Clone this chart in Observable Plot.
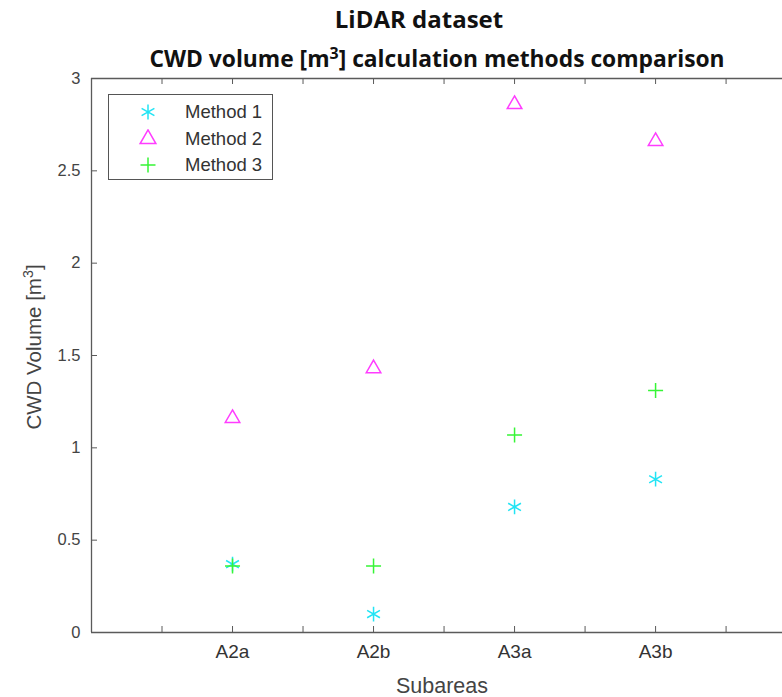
<!DOCTYPE html>
<html>
<head>
<meta charset="utf-8">
<script src="https://cdn.jsdelivr.net/npm/d3@7"></script>
<script src="https://cdn.jsdelivr.net/npm/@observablehq/plot@0.6"></script>
<style>
  html, body { margin: 0; padding: 0; background: #fff; overflow: hidden; }
  #wrap { position: relative; width: 782px; height: 697px; font-family: "Liberation Sans", Arial, sans-serif; }
  .t { position: absolute; white-space: nowrap; }
  #title { left: 419px; top: 18px; transform: translate(-50%, -50%); font: bold 24px "Open Sans", sans-serif; color: #111; }
  #subtitle { left: 437px; top: 58px; transform: translate(-50%, -50%); font: bold 22.8px "Open Sans", sans-serif; color: #111; }
  #ylabel { left: 33px; top: 347px; transform: translate(-50%, -50%) rotate(-90deg); font-size: 20.5px; color: #444; }
  #xlabel { left: 442px; top: 686px; transform: translate(-50%, -50%); font-size: 21.5px; color: #444; }
  sup { font-size: 0.7em; }
  #legend { position: absolute; left: 108px; top: 94px; width: 165px; height: 86px; border: 1px solid #555; background: #fff; box-sizing: border-box; }
  .row { position: absolute; left: 0; height: 20px; display: flex; align-items: center; font-size: 18.5px; color: #333; }
  .row svg { margin-left: 29px; margin-right: 27px; }
</style>
</head>
<body>
<div id="wrap">
  <div id="chart"></div>
  <div class="t" id="title">LiDAR dataset</div>
  <div class="t" id="subtitle">CWD volume [m<sup>3</sup>] calculation methods comparison</div>
  <div class="t" id="ylabel">CWD Volume [m<sup>3</sup>]</div>
  <div class="t" id="xlabel">Subareas</div>
  <div id="legend"></div>
</div>
<script>
// ---- data ----
const subareas = ["A2a", "A2b", "A3a", "A3b"];
const method1 = [0.37, 0.10, 0.68, 0.83];
const method2 = [1.16, 1.43, 2.86, 2.66];
const method3 = [0.36, 0.36, 1.07, 1.31];
const methodNames = ["Method 1", "Method 2", "Method 3"];
const methodColors = ["#22e4f4", "#ff3cff", "#36f536"];
const methodSymbols = ["asterisk", "triangle", "plus"];
const plotRadius = [7, 5.4, 4.9];
const legendRadius = [7, 7.5, 4.9];
const yTicks = [0, 0.5, 1, 1.5, 2, 2.5, 3];
const xTicks = [0.5, 1, 1.5, 2, 2.5, 3, 3.5, 4, 4.5];

const series = [method1, method2, method3];

const W = 782, H = 697, mL = 91, mR = 0, mT = 78, mB = 65;
const innerW = W - mL - mR, innerH = H - mT - mB;
const axisColor = "#5a5a5a";
const tk = 6;

const dotMarks = series.map((vals, m) =>
  Plot.dot(vals.map((v, i) => ({x: i + 1, value: v})), {
    x: "x", y: "value",
    symbol: methodSymbols[m],
    stroke: methodColors[m],
    r: plotRadius[m],
    strokeWidth: 1.5
  })
);

const plot = Plot.plot({
  width: W, height: H,
  marginLeft: mL, marginRight: mR, marginTop: mT, marginBottom: mB,
  style: {fontFamily: "'Liberation Sans', Arial, sans-serif", fontSize: "16px", color: "#444", background: "#fff", overflow: "visible"},
  x: {domain: [0, 4.9], axis: null},
  y: {domain: [0, 3], axis: null},
  marks: [
    Plot.ruleX([0], {stroke: axisColor, strokeWidth: 1.3}),
    Plot.ruleY([0], {stroke: axisColor, strokeWidth: 1.3}),
    Plot.ruleY([3], {stroke: axisColor, strokeWidth: 1.3}),
    Plot.ruleX(xTicks, {x: d => d, stroke: axisColor, insetTop: innerH - tk}),
    Plot.ruleX(xTicks, {x: d => d, stroke: axisColor, insetBottom: innerH - tk}),
    Plot.ruleY(yTicks, {y: d => d, stroke: axisColor, insetRight: innerW - tk}),
    Plot.text(yTicks, {x: 0, y: d => d, text: d => String(d), textAnchor: "end", dx: -11, fill: "#444", fontSize: 16.5}),
    Plot.text(subareas, {x: (d, i) => i + 1, y: 0, text: d => d, dy: 19, fill: "#333", fontSize: 19}),
    ...dotMarks
  ]
});
document.getElementById("chart").appendChild(plot);

// legend
const legend = document.getElementById("legend");
const symMap = {asterisk: d3.symbolAsterisk, triangle: d3.symbolTriangle2, plus: d3.symbolPlus};
methodNames.forEach((name, i) => {
  const row = document.createElement("div");
  row.className = "row";
  row.style.top = (7 + i * 26.5) + "px";
  const svg = d3.create("svg").attr("width", 20).attr("height", 20);
  const r = legendRadius[i];
  svg.append("path")
    .attr("transform", "translate(10,10)")
    .attr("d", d3.symbol(symMap[methodSymbols[i]], Math.PI * r * r)())
    .attr("fill", "none").attr("stroke", methodColors[i]).attr("stroke-width", 1.5);
  row.appendChild(svg.node());
  const span = document.createElement("span");
  span.textContent = name;
  row.appendChild(span);
  legend.appendChild(row);
});
</script>
</body>
</html>
